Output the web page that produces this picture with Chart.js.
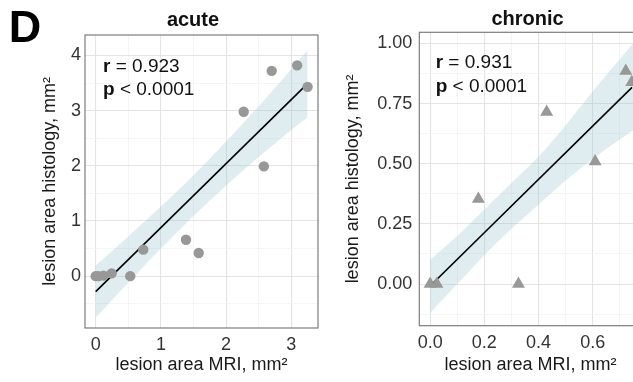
<!DOCTYPE html>
<html>
<head>
<meta charset="utf-8">
<title>lesion area MRI vs histology</title>
<script src="https://cdn.jsdelivr.net/npm/chart.js"></script>
<style>
  html, body { margin: 0; padding: 0; background: #fff; overflow: hidden; }
  body { width: 633px; height: 382px; position: relative; }
  canvas { position: absolute; top: 0; }
  #acuteChart { left: 0; }
  #chronicChart { left: 325px; }
</style>
</head>
<body>
<canvas id="acuteChart" width="325" height="382"></canvas>
<canvas id="chronicChart" width="330" height="382"></canvas>
<script>
// acute panel data
const acuteMri = [0, 0.04, 0.12, 0.245, 0.53, 0.73, 1.385, 1.58, 2.27, 2.58, 2.70, 3.09, 3.25];
const acuteHisto = [0, 0, 0.01, 0.05, 0, 0.48, 0.66, 0.42, 2.98, 1.99, 3.72, 3.82, 3.43];
const acuteFitX = [0, 3.25];
const acuteFitY = [-0.28, 3.49];
const acuteBandX = [0, 0.5, 1, 1.5, 2, 2.5, 3, 3.25];
const acuteBandHi = [0.19, 0.72, 1.26, 1.83, 2.44, 3.08, 3.75, 4.10];
const acuteBandLo = [-0.75, -0.12, 0.50, 1.09, 1.64, 2.16, 2.65, 2.88];
const acuteXTicks = [0, 1, 2, 3];
const acuteXLabels = ['0', '1', '2', '3'];
const acuteXMinor = [0.5, 1.5, 2.5];
const acuteYTicks = [0, 1, 2, 3, 4];
const acuteYLabels = ['0', '1', '2', '3', '4'];
const acuteYMinor = [-0.5, 0.5, 1.5, 2.5, 3.5];

// chronic panel data
const chronicMri = [0, 0.025, 0.178, 0.326, 0.43, 0.609, 0.722, 0.744];
const chronicHisto = [0, 0, 0.353, 0, 0.715, 0.509, 0.885, 0.838];
const chronicFitX = [0, 0.745];
const chronicFitY = [-0.008, 0.817];
const chronicBandX = [0, 0.1, 0.2, 0.3, 0.4, 0.5, 0.6, 0.75];
const chronicBandHi = [0.10, 0.20, 0.31, 0.42, 0.53, 0.66, 0.80, 1.00];
const chronicBandLo = [-0.12, 0.00, 0.12, 0.23, 0.33, 0.43, 0.52, 0.64];
const chronicXTicks = [0, 0.2, 0.4, 0.6];
const chronicXLabels = ['0.0', '0.2', '0.4', '0.6'];
const chronicXMinor = [0.1, 0.3, 0.5, 0.7];
const chronicYTicks = [0, 0.25, 0.5, 0.75, 1];
const chronicYLabels = ['0.00', '0.25', '0.50', '0.75', '1.00'];
const chronicYMinor = [-0.125, 0.125, 0.375, 0.625, 0.875];

const FONT = "'Liberation Sans', Arial, sans-serif";
Chart.defaults.font.family = FONT;
Chart.defaults.color = '#333';

const toPoints = (xs, ys) => xs.map((x, i) => ({ x, y: ys[i] }));

const makeScale = (cfg) => ({
  type: 'linear',
  min: cfg.min,
  max: cfg.max,
  afterBuildTicks: (scale) => {
    scale.ticks = [...cfg.majors, ...cfg.minors]
      .sort((a, b) => a - b)
      .map((v) => ({ value: v }));
  },
  afterFit: (scale) => {
    if (cfg.width) scale.width = cfg.width;
    if (cfg.height) scale.height = cfg.height;
  },
  ticks: {
    autoSkip: false,
    maxRotation: 0,
    padding: cfg.tickPad,
    font: { size: 18 },
    color: '#333',
    callback: (value) => {
      const i = cfg.majors.indexOf(value);
      return i >= 0 ? cfg.labels[i] : '';
    },
  },
  grid: {
    drawTicks: false,
    color: (c) => (c.tick && cfg.majors.includes(c.tick.value) ? '#e4e4e4' : '#f1f1f1'),
    lineWidth: (c) => (c.tick && cfg.majors.includes(c.tick.value) ? 1.1 : 0.7),
  },
  border: { display: false },
  title: {
    display: true,
    text: cfg.title,
    font: { size: 18 },
    color: '#1a1a1a',
    padding: cfg.titlePad,
  },
});

// panel box, title, r/p text and the panel letter
const panelPlugin = (p) => ({
  id: 'panelDecor',
  afterDatasetsDraw(chart) {
    const { ctx, chartArea: a } = chart;
    ctx.save();
    ctx.strokeStyle = '#7d7d7d';
    ctx.lineWidth = 1.2;
    ctx.strokeRect(a.left, a.top, a.right - a.left, a.bottom - a.top);

    ctx.textBaseline = 'alphabetic';
    ctx.fillStyle = '#111';
    ctx.textAlign = 'center';
    ctx.font = 'bold 20px ' + FONT;
    ctx.fillText(p.title, p.titleX, p.titleY);

    ctx.textAlign = 'left';
    const s = p.stats;
    const rows = [['r', ' = ' + s.r, s.y1], ['p', ' < ' + s.p, s.y2]];
    rows.forEach(([b, rest, dy]) => {
      const x = a.left + s.dx;
      ctx.font = 'bold 19px ' + FONT;
      ctx.fillText(b, x, a.top + dy);
      const w = ctx.measureText(b).width;
      ctx.font = '19px ' + FONT;
      ctx.fillText(rest, x + w, a.top + dy);
    });

    if (p.letter) {
      ctx.font = 'bold 45px ' + FONT;
      ctx.fillStyle = '#000';
      ctx.fillText(p.letter, 8.7, 42);
    }
    ctx.restore();
  },
});

const makeChart = (id, p) => new Chart(document.getElementById(id), {
  type: 'scatter',
  data: {
    datasets: [
      {
        data: toPoints(p.mri, p.histo),
        pointStyle: p.pointStyle,
        pointRadius: p.pointRadius,
        backgroundColor: '#989898',
        borderWidth: 0,
        order: 0,
      },
      {
        type: 'line',
        data: toPoints(p.fitX, p.fitY),
        borderColor: '#000',
        borderWidth: 1.6,
        pointRadius: 0,
        fill: false,
        order: 1,
      },
      {
        type: 'line',
        data: toPoints(p.bandX, p.bandHi),
        borderWidth: 0,
        pointRadius: 0,
        tension: 0.3,
        backgroundColor: 'rgba(150, 195, 205, 0.3)',
        fill: '+1',
        order: 2,
      },
      {
        type: 'line',
        data: toPoints(p.bandX, p.bandLo),
        borderWidth: 0,
        pointRadius: 0,
        tension: 0.3,
        fill: false,
        order: 3,
      },
    ],
  },
  options: {
    responsive: false,
    animation: false,
    layout: { padding: { left: 0, right: p.padRight, top: p.padTop, bottom: 0 } },
    plugins: {
      legend: { display: false },
      tooltip: { enabled: false },
    },
    scales: {
      x: makeScale(p.x),
      y: makeScale(p.y),
    },
  },
  plugins: [panelPlugin(p)],
});

makeChart('acuteChart', {
  title: 'acute',
  titleX: 193,
  titleY: 26,
  letter: 'D',
  mri: acuteMri,
  histo: acuteHisto,
  fitX: acuteFitX,
  fitY: acuteFitY,
  bandX: acuteBandX,
  bandHi: acuteBandHi,
  bandLo: acuteBandLo,
  pointStyle: 'circle',
  pointRadius: 5.2,
  padRight: 7,
  padTop: 35,
  stats: { r: '0.923', p: '0.0001', dx: 18, y1: 37, y2: 60 },
  x: {
    min: -0.164, max: 3.41, majors: acuteXTicks, labels: acuteXLabels, minors: acuteXMinor,
    height: 54, tickPad: 6, title: 'lesion area MRI, mm²', titlePad: { top: 0, bottom: 6.2 },
  },
  y: {
    min: -0.94, max: 4.37, majors: acuteYTicks, labels: acuteYLabels, minors: acuteYMinor,
    width: 85, tickPad: 4, title: 'lesion area histology, mm²', titlePad: { top: 39.2, bottom: 0 },
  },
});

makeChart('chronicChart', {
  title: 'chronic',
  titleX: 202.5,
  titleY: 25,
  letter: null,
  mri: chronicMri,
  histo: chronicHisto,
  fitX: chronicFitX,
  fitY: chronicFitY,
  bandX: chronicBandX,
  bandHi: chronicBandHi,
  bandLo: chronicBandLo,
  pointStyle: 'triangle',
  pointRadius: 7.5,
  padRight: 13.5,
  padTop: 32.3,
  stats: { r: '0.931', p: '0.0001', dx: 16.4, y1: 36, y2: 59.4 },
  x: {
    min: -0.04, max: 0.78, majors: chronicXTicks, labels: chronicXLabels, minors: chronicXMinor,
    height: 56.3, tickPad: 7, title: 'lesion area MRI, mm²', titlePad: { top: 0, bottom: 6.2 },
  },
  y: {
    min: -0.173, max: 1.046, majors: chronicYTicks, labels: chronicYLabels, minors: chronicYMinor,
    width: 94.3, tickPad: 7, title: 'lesion area histology, mm²', titlePad: { top: 17.7, bottom: 0 },
  },
});
</script>
</body>
</html>
